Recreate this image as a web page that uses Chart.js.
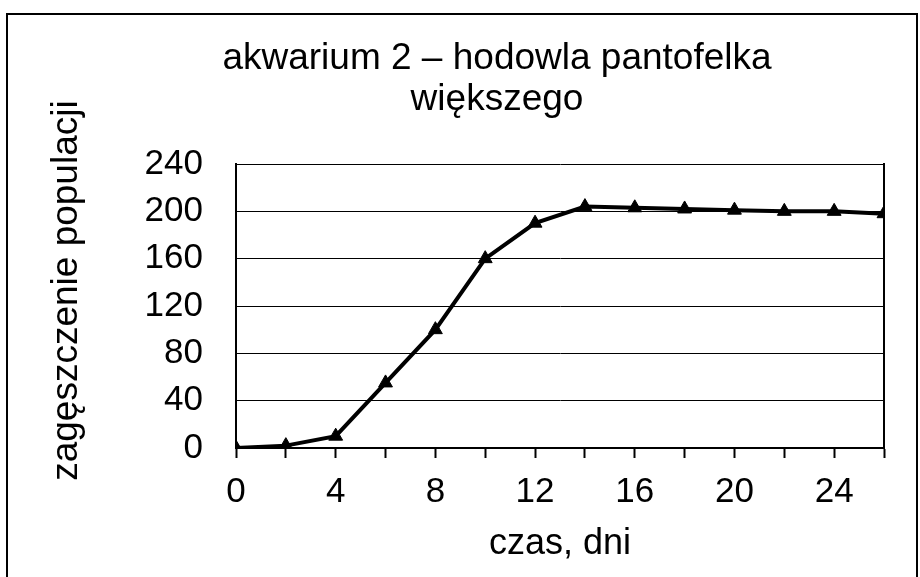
<!DOCTYPE html>
<html>
<head>
<meta charset="utf-8">
<script src="https://cdn.jsdelivr.net/npm/chart.js@4/dist/chart.umd.min.js"></script>
<style>
  html, body { margin: 0; background: #fff; overflow: hidden; }
  #wrap { position: relative; width: 920px; height: 577px; overflow: hidden; }
  #frame { position: absolute; left: 6px; top: 13px; width: 908px; height: 640px; border: 2px solid #000; }
  #chart { position: absolute; left: 0; top: 0; }
</style>
</head>
<body>
<div id="wrap">
  <div id="frame"></div>
  <canvas id="chart" width="994" height="577"></canvas>
</div>
<script>
  // czas, dni
  const days = [0, 2, 4, 6, 8, 10, 12, 14, 16, 18, 20, 22, 24, 26];
  // zagęszczenie populacji
  const density = [0, 2, 10, 55, 100, 160, 190, 204, 203, 202, 201, 200, 200, 198];
  const yTicks = [0, 40, 80, 120, 160, 200, 240];
  const xLabels = [0, 4, 8, 12, 16, 20, 24];

  const FONT = "'Liberation Sans', Arial, sans-serif";

  const ctx = document.getElementById("chart").getContext("2d");
  const chart = new Chart(ctx, {
    type: "line",
    data: {
      datasets: [
        {
          data: days.map((d, i) => ({ x: d, y: density[i] })),
          borderColor: "#000",
          backgroundColor: "#000",
          borderWidth: 4,
          tension: 0,
          pointStyle: "triangle",
          pointRadius: 8,
          pointBorderWidth: 1,
        },
      ],
    },
    options: {
      responsive: false,
      animation: false,
      layout: { padding: 0 },
      plugins: {
        legend: { display: false },
        tooltip: { enabled: false },
        title: {
          display: true,
          text: ["akwarium 2 – hodowla pantofelka", "większego"],
          color: "#000",
          font: { family: FONT, size: 37, weight: "normal", lineHeight: "41px" },
          padding: { top: 38, bottom: 44 },
        },
      },
      scales: {
        x: {
          type: "linear",
          min: 0,
          max: 26,
          afterFit: (axis) => { axis.height = 577 - 448; },
          ticks: {
            stepSize: 2,
            color: "#000",
            font: { family: FONT, size: 35 },
            padding: 13,
            maxRotation: 0,
            autoSkip: false,
            callback: (v) => (xLabels.includes(v) ? String(v) : ""),
          },
          grid: {
            drawOnChartArea: false,
            tickColor: "#000",
            tickLength: 10,
            tickWidth: 2,
          },
          border: { display: true, color: "#000", width: 2 },
          title: {
            display: true,
            text: "czas, dni",
            color: "#000",
            font: { family: FONT, size: 36 },
            padding: { top: 0, bottom: 11 },
          },
        },
        y: {
          min: 0,
          max: 240,
          afterFit: (axis) => { axis.width = 236; },
          afterBuildTicks: (axis) => {
            axis.ticks = yTicks.map((v) => ({ value: v }));
          },
          ticks: {
            color: "#000",
            font: { family: FONT, size: 35 },
            padding: 33,
          },
          grid: { color: "#000", lineWidth: 1, drawTicks: false },
          border: { display: true, color: "#000", width: 2 },
          title: {
            display: true,
            // leading spaces nudge the rotated label upwards like the original
            text: "   zagęszczenie populacji",
            color: "#000",
            font: { family: FONT, size: 37 },
            padding: { top: 45, bottom: 0 },
          },
        },
        // right edge of the plot box
        yRight: {
          position: "right",
          min: 0,
          max: 240,
          afterFit: (axis) => { axis.width = 994 - 884; },
          ticks: { display: false },
          grid: { drawOnChartArea: false, drawTicks: false },
          border: { display: true, color: "#000", width: 2 },
        },
      },
    },
  });
</script>
</body>
</html>
